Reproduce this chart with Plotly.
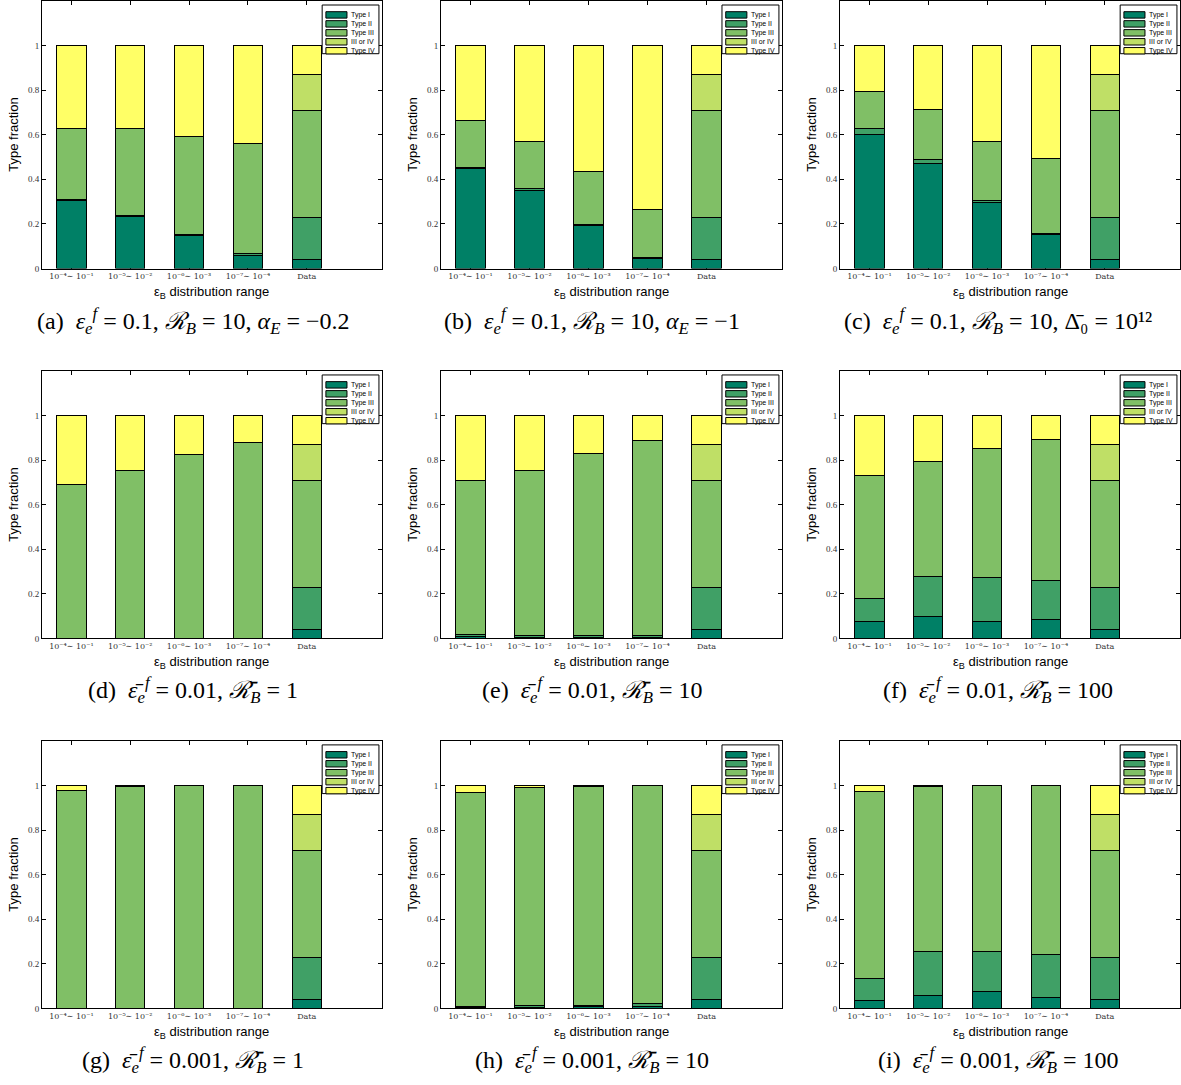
import plotly.graph_objects as go

# ---------------- data ----------------
categories = ["10⁻⁴∼ 10⁻¹", "10⁻⁵∼ 10⁻²", "10⁻⁶∼ 10⁻³", "10⁻⁷∼ 10⁻⁴", "Data"]
type_names = ["Type I", "Type II", "Type III", "III or IV", "Type IV"]
y_tick_vals = [0, 0.2, 0.4, 0.6, 0.8, 1]
y_tick_text = ["0", "0.2", "0.4", "0.6", "0.8", "1"]

# observed "Data" bar (same in every panel): I, II, III, III or IV, IV
data_bar = [0.04, 0.19, 0.48, 0.16, 0.13]

# model bars (4 eps_B ranges) per panel
type1 = {
    "a": [0.305, 0.235, 0.150, 0.059],
    "b": [0.448, 0.352, 0.191, 0.044],
    "c": [0.600, 0.472, 0.295, 0.151],
    "d": [0.0, 0.0, 0.0, 0.0],
    "e": [0.008, 0.006, 0.005, 0.004],
    "f": [0.076, 0.097, 0.074, 0.085],
    "g": [0.0, 0.0, 0.0, 0.0],
    "h": [0.006, 0.006, 0.008, 0.010],
    "i": [0.037, 0.060, 0.074, 0.049],
}
type2 = {
    "a": [0.004, 0.004, 0.004, 0.009],
    "b": [0.006, 0.007, 0.008, 0.005],
    "c": [0.026, 0.019, 0.008, 0.006],
    "d": [0.0, 0.0, 0.0, 0.0],
    "e": [0.009, 0.006, 0.009, 0.010],
    "f": [0.104, 0.181, 0.198, 0.177],
    "g": [0.0, 0.0, 0.0, 0.0],
    "h": [0.004, 0.007, 0.003, 0.012],
    "i": [0.098, 0.193, 0.182, 0.194],
}
type3 = {
    "a": [0.317, 0.389, 0.437, 0.495],
    "b": [0.209, 0.213, 0.238, 0.217],
    "c": [0.166, 0.222, 0.266, 0.338],
    "d": [0.692, 0.752, 0.825, 0.881],
    "e": [0.692, 0.741, 0.815, 0.876],
    "f": [0.553, 0.514, 0.578, 0.630],
    "g": [0.977, 0.996, 0.998, 0.999],
    "h": [0.960, 0.980, 0.986, 0.976],
    "i": [0.840, 0.741, 0.742, 0.755],
}
type3or4 = {p: [0.0, 0.0, 0.0, 0.0] for p in "abcdefghi"}
type4 = {
    "a": [0.374, 0.372, 0.409, 0.437],
    "b": [0.337, 0.428, 0.563, 0.734],
    "c": [0.208, 0.287, 0.431, 0.505],
    "d": [0.308, 0.248, 0.175, 0.119],
    "e": [0.291, 0.247, 0.171, 0.110],
    "f": [0.267, 0.208, 0.150, 0.108],
    "g": [0.023, 0.004, 0.002, 0.001],
    "h": [0.030, 0.007, 0.003, 0.002],
    "i": [0.025, 0.006, 0.002, 0.002],
}

eps = "<i>ε</i>"
epsbar = "<i>ε\u0304</i>"
Rcal = "<i>ℛ</i>"
Rbar = "<i>ℛ\u0304</i>"
captions = {
    "a": f"(a)  {eps}<sub><i>e</i></sub><sup><i>f</i></sup> = 0.1, {Rcal}<sub><i>B</i></sub> = 10, <i>α</i><sub><i>E</i></sub> = −0.2",
    "b": f"(b)  {eps}<sub><i>e</i></sub><sup><i>f</i></sup> = 0.1, {Rcal}<sub><i>B</i></sub> = 10, <i>α</i><sub><i>E</i></sub> = −1",
    "c": f"(c)  {eps}<sub><i>e</i></sub><sup><i>f</i></sup> = 0.1, {Rcal}<sub><i>B</i></sub> = 10, Δ\u0304₀ = 10¹²",
    "d": f"(d)  {epsbar}<sub><i>e</i></sub><sup><i>f</i></sup> = 0.01, {Rbar}<sub><i>B</i></sub> = 1",
    "e": f"(e)  {epsbar}<sub><i>e</i></sub><sup><i>f</i></sup> = 0.01, {Rbar}<sub><i>B</i></sub> = 10",
    "f": f"(f)  {epsbar}<sub><i>e</i></sub><sup><i>f</i></sup> = 0.01, {Rbar}<sub><i>B</i></sub> = 100",
    "g": f"(g)  {epsbar}<sub><i>e</i></sub><sup><i>f</i></sup> = 0.001, {Rbar}<sub><i>B</i></sub> = 1",
    "h": f"(h)  {epsbar}<sub><i>e</i></sub><sup><i>f</i></sup> = 0.001, {Rbar}<sub><i>B</i></sub> = 10",
    "i": f"(i)  {epsbar}<sub><i>e</i></sub><sup><i>f</i></sup> = 0.001, {Rbar}<sub><i>B</i></sub> = 100",
}

# ---------------- styling / layout ----------------
W, H = 1181, 1085
colors = ["#008066", "#40A066", "#80BF66", "#BFDF66", "#FFFF66"]
col_px = [(42, 382), (441, 782), (840, 1180)]
row_px = [(0, 269), (372, 641), (744, 1013)]
caption_x_px = [193, 592, 998]
caption_y_px = [322, 693, 1065]
serif = "DejaVu Serif, Liberation Serif, serif"
capserif = "Liberation Serif, DejaVu Serif, serif"
sans = "Liberation Sans, Arial, sans-serif"

fig = go.Figure()
layout = dict(width=W, height=H, margin=dict(l=0, r=0, t=0, b=0),
              paper_bgcolor="white", plot_bgcolor="white",
              barmode="stack", bargap=0.5, showlegend=False)
annotations = []
shapes = []

panels = list("abcdefghi")
for k, p in enumerate(panels):
    r, c = divmod(k, 3)
    idx = "" if k == 0 else str(k + 1)
    xa, ya = "x" + idx, "y" + idx
    series = [
        type1[p] + [data_bar[0]],
        type2[p] + [data_bar[1]],
        type3[p] + [data_bar[2]],
        type3or4[p] + [data_bar[3]],
        type4[p] + [data_bar[4]],
    ]
    for name, vals, col in zip(type_names, series, colors):
        fig.add_trace(go.Bar(x=categories, y=vals, name=name, xaxis=xa, yaxis=ya,
                             textposition="none", hoverinfo="skip",
                             marker=dict(color=col, line=dict(color="black", width=1)),
                             showlegend=False))
    x0, x1 = col_px[c]
    y0, y1 = row_px[r]
    layout["xaxis" + idx] = dict(
        domain=[x0 / W, x1 / W], anchor=ya, type="category",
        categoryorder="array", categoryarray=categories,
        range=[-0.5, 5.28], showline=True, linecolor="black", linewidth=1,
        mirror="ticks", ticks="inside", ticklen=4, tickcolor="black",
        showgrid=False, zeroline=False, layer="below traces",
        tickfont=dict(family=serif, size=8, color="#333"), tickangle=0, fixedrange=True)
    layout["yaxis" + idx] = dict(
        domain=[1 - y1 / H, 1 - y0 / H], anchor=xa, range=[0, 1.2],
        tickvals=y_tick_vals, ticktext=y_tick_text,
        showline=True, linecolor="black", linewidth=1, mirror="ticks",
        ticks="inside", ticklen=4, tickcolor="black", showgrid=False, zeroline=False,
        tickfont=dict(family=capserif, size=9, color="#333"), fixedrange=True)

    xd, yd = xa + " domain", ya + " domain"
    # axis titles
    annotations.append(dict(xref=xd, yref=yd, x=0.5, y=0, yshift=-24, showarrow=False,
                            text="ε<sub>B</sub> distribution range",
                            font=dict(family=sans, size=13, color="black"),
                            xanchor="center", yanchor="middle"))
    annotations.append(dict(xref=xd, yref=yd, x=0, y=0.5, xshift=-28, showarrow=False,
                            text="Type fraction", textangle=-90,
                            font=dict(family=sans, size=13, color="black"),
                            xanchor="center", yanchor="middle"))
    # caption
    annotations.append(dict(xref="paper", yref="paper", x=caption_x_px[c] / W,
                            y=1 - caption_y_px[r] / H, showarrow=False, text=captions[p],
                            font=dict(family=capserif, size=24, color="black"),
                            xanchor="center", yanchor="middle"))
    # legend box (drawn in axis-domain coordinates)
    shapes.append(dict(type="rect", xref=xd, yref=yd, x0=0.824, x1=0.991,
                       y0=0.803, y1=0.985, fillcolor="white",
                       line=dict(color="black", width=1), layer="above"))
    for j, (name, col) in enumerate(zip(type_names, colors)):
        cy = 0.948 - j * 0.0335
        shapes.append(dict(type="rect", xref=xd, yref=yd, x0=0.835, x1=0.897,
                           y0=cy - 0.012, y1=cy + 0.012, fillcolor=col,
                           line=dict(color="black", width=1), layer="above"))
        annotations.append(dict(xref=xd, yref=yd, x=0.903, y=cy, showarrow=False,
                                text=name, font=dict(family=sans, size=7, color="black"),
                                xanchor="left", yanchor="middle"))

layout["annotations"] = annotations
layout["shapes"] = shapes
fig.update_layout(**layout)
fig.write_html("out.html", config={"displayModeBar": False},
               post_script="document.body.style.margin='0px';document.body.style.padding='0px';")
